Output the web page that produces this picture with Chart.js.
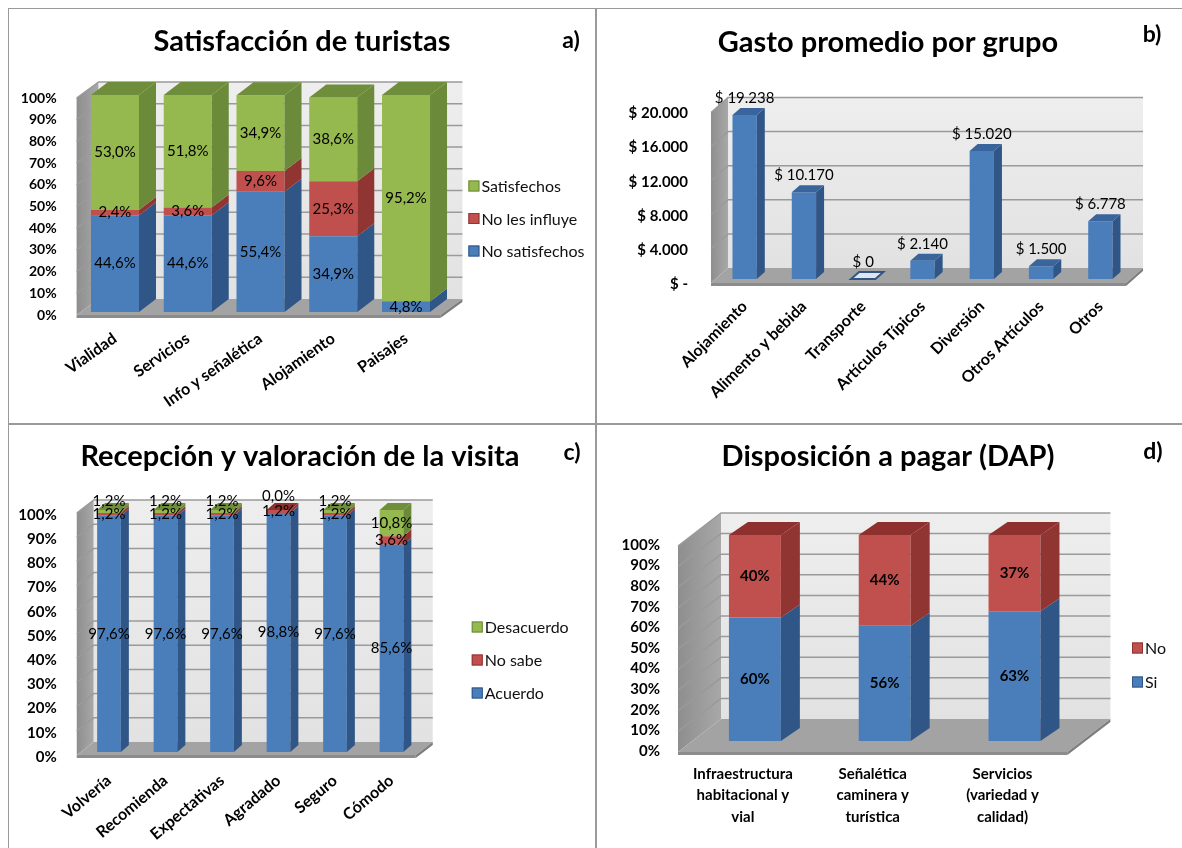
<!DOCTYPE html>
<html>
<head>
<meta charset="utf-8">
<script src="https://cdn.jsdelivr.net/npm/chart.js@4.4.1/dist/chart.umd.min.js"></script>
<style>
    body { margin:0; background:#fff; width:1182px; height:848px; position:relative; overflow:hidden; }
    .marco { position:absolute; border:1.5px solid #9a9a9a; box-sizing:border-box; }
    canvas { position:absolute; }
</style>
</head>
<body>
<div class="marco" style="left:8px;top:8px;width:589px;height:417px"></div>
<div class="marco" style="left:595px;top:8px;width:600px;height:417px"></div>
<div class="marco" style="left:8px;top:423px;width:589px;height:440px"></div>
<div class="marco" style="left:595px;top:423px;width:600px;height:440px"></div>

<canvas id="graficoA" width="596" height="424" style="left:0;top:0"></canvas>
<canvas id="graficoB" width="586" height="424" style="left:596px;top:0"></canvas>
<canvas id="graficoC" width="596" height="424" style="left:0;top:424px"></canvas>
<canvas id="graficoD" width="586" height="424" style="left:596px;top:424px"></canvas>

<script>
// a) Satisfaccion de turistas
const categoriasA = ['Vialidad', 'Servicios', 'Info y señalética', 'Alojamiento', 'Paisajes'];
const noSatisfechos = [44.6, 44.6, 55.4, 34.9, 4.8];
const noLesInfluye = [2.4, 3.6, 9.6, 25.3, null];
const satisfechos = [53.0, 51.8, 34.9, 38.6, 95.2];

// b) Gasto promedio por grupo
const categoriasB = ['Alojamiento', 'Alimento y bebida', 'Transporte', 'Artículos Típicos', 'Diversión', 'Otros Artículos', 'Otros'];
const gasto = [19238, 10170, 0, 2140, 15020, 1500, 6778];

// c) Recepcion y valoracion de la visita
const categoriasC = ['Volvería', 'Recomienda', 'Expectativas', 'Agradado', 'Seguro', 'Cómodo'];
const acuerdo = [97.6, 97.6, 97.6, 98.8, 97.6, 85.6];
const noSabe = [1.2, 1.2, 1.2, 1.2, 1.2, 3.6];
const desacuerdo = [1.2, 1.2, 1.2, 0.0, 1.2, 10.8];

// d) Disposicion a pagar
const categoriasD = [['Infraestructura', 'habitacional y', 'vial'], ['Señalética', 'caminera y', 'turística'], ['Servicios', '(variedad y', 'calidad)']];
const si = [60, 56, 63];
const no = [40, 44, 37];

const AZUL = { front: '#4a7ebb', side: '#2f5686', top: '#3a659c' };
const ROJO = { front: '#c0504d', side: '#913532', top: '#8e302d' };
const VERDE = { front: '#95b84f', side: '#6b8a3a', top: '#6f8e3b' };

const FUENTE = 'Lato, "Open Sans", sans-serif';

function poligono(ctx, pts, fill, stroke){
    ctx.beginPath();
    ctx.moveTo(pts[0][0], pts[0][1]);
    for (let k = 1; k < pts.length; k++) ctx.lineTo(pts[k][0], pts[k][1]);
    ctx.closePath();
    if (fill) { ctx.fillStyle = fill; ctx.fill(); }
    if (stroke) { ctx.strokeStyle = stroke; ctx.stroke(); }
}

function porcentaje(v){
    return v.toFixed(1).replace('.', ',') + '%';
}

function pesos(v){
    return '$ ' + String(v).replace(/\B(?=(\d{3})+(?!\d))/g, '.');
}

// paredes, piso y caras laterales al estilo 3D de Excel
const tresD = {
    id: 'tresD',
    beforeDatasetsDraw(chart, args, o){
        const ctx = chart.ctx, area = chart.chartArea, ys = chart.scales.y;
        const L = area.left + o.sx, R = area.right + o.sx;
        const T = ys.getPixelForValue(ys.max) + o.sy, B = ys.getPixelForValue(ys.min) + o.sy;
        const dx = o.wx, dy = o.wy;
        ctx.save();
        let g = ctx.createLinearGradient(L, 0, L + dx, 0);
        g.addColorStop(0, '#8e8e8e');
        g.addColorStop(1, '#a8a8a8');
        poligono(ctx, [[L, T], [L + dx, T + dy], [L + dx, B + dy], [L, B]], g);
        g = ctx.createLinearGradient(0, T + dy, 0, B + dy);
        g.addColorStop(0, '#eeeeee');
        g.addColorStop(1, '#e2e2e2');
        poligono(ctx, [[L + dx, T + dy], [R + dx, T + dy], [R + dx, B + dy], [L + dx, B + dy]], g);
        poligono(ctx, [[L, B], [R, B], [R + dx, B + dy], [L + dx, B + dy]], '#a3a3a3');
        poligono(ctx, [[L, B], [R, B], [R, B + 3], [L, B + 3]], '#8c8c8c');
        poligono(ctx, [[R, B], [R + dx, B + dy], [R + dx, B + dy + 3], [R, B + 3]], '#7d7d7d');
        ctx.lineWidth = 1.5;
        ys.ticks.forEach(function(t){
            if (t.value === ys.min) return;
            const y = ys.getPixelForValue(t.value) + o.sy;
            ctx.strokeStyle = '#9a9a9a';
            ctx.beginPath();
            ctx.moveTo(L, y);
            ctx.lineTo(L + dx, y + dy);
            ctx.lineTo(R + dx, y + dy);
            ctx.stroke();
        });
        ctx.restore();
    },
    afterDatasetsDraw(chart, args, o){
        const ctx = chart.ctx;
        const datasets = chart.data.datasets;
        const n = chart.data.labels.length;
        const bx = o.bx, by = o.by;
        ctx.save();
        for (let j = 0; j < n; j++) {
            let tope = -1;
            datasets.forEach(function(ds, i){ if (ds.data[j] > 0) tope = i; });
            datasets.forEach(function(ds, i){
                const v = ds.data[j];
                if (v == null) return;
                const el = chart.getDatasetMeta(i).data[j];
                const l = el.x - el.width / 2, r = el.x + el.width / 2;
                const t = Math.min(el.y, el.base), b = Math.max(el.y, el.base);
                if (v > 0) {
                    poligono(ctx, [[r, t], [r + bx, t + by], [r + bx, b + by], [r, b]], ds.colores.side);
                }
                if (i === tope) {
                    poligono(ctx, [[l, t], [l + bx, t + by], [r + bx, t + by], [r, t]], ds.colores.top);
                }
                if (tope < 0 && i === 0) {
                    ctx.lineWidth = 2;
                    poligono(ctx, [[l, t], [l + bx, t + by], [r + bx, t + by], [r, t]], '#dfe6f0', ds.colores.side);
                }
            });
        }
        // etiquetas de datos
        ctx.fillStyle = '#000';
        ctx.font = o.etiquetas.font;
        ctx.textAlign = 'center';
        ctx.textBaseline = 'middle';
        const ultimo = datasets.length - 1;
        for (let j = 0; j < n; j++) {
            datasets.forEach(function(ds, i){
                const v = ds.data[j];
                if (v == null) return;
                const el = chart.getDatasetMeta(i).data[j];
                const t = Math.min(el.y, el.base), b = Math.max(el.y, el.base);
                let y = (t + b) / 2;
                if (o.etiquetas.arriba) {
                    y = t - 17;
                } else if (i === ultimo && ultimo > 0 && b - t < 8) {
                    y = t - 9 - (v === 0 ? 5 : 0);
                }
                ctx.fillText(o.etiquetas.formato(v), el.x, y);
            });
        }
        ctx.restore();
    },
    afterDraw(chart, args, o){
        const ctx = chart.ctx, area = chart.chartArea;
        ctx.save();
        ctx.fillStyle = '#000';
        ctx.textAlign = 'center';
        ctx.textBaseline = 'middle';
        ctx.font = 'bold 29px ' + FUENTE;
        ctx.fillText(o.titulo.texto, o.titulo.x, o.titulo.y);
        ctx.font = 'bold 23px ' + FUENTE;
        ctx.fillText(o.marca.texto, o.marca.x, o.marca.y);
        if (o.leyenda) {
            const lg = o.leyenda;
            const items = chart.data.datasets.slice().reverse();
            ctx.font = lg.font;
            ctx.textAlign = 'left';
            items.forEach(function(ds, k){
                const x = area.right + lg.x, y = area.top + lg.y + k * lg.gap;
                ctx.lineWidth = 1;
                ctx.fillStyle = ds.colores.front;
                ctx.fillRect(x, y - 5.5, 11, 11);
                ctx.strokeStyle = ds.colores.side;
                ctx.strokeRect(x + 0.5, y - 5, 10, 10);
                ctx.fillStyle = '#111';
                ctx.fillText(ds.label, x + 13, y + 1);
            });
        }
        ctx.restore();
    }
};

function opcionesBase(padding){
    return {
        responsive: false,
        animation: false,
        events: [],
        layout: { padding: padding },
        plugins: {
            legend: { display: false },
            tooltip: { enabled: false },
            title: { display: false }
        }
    };
}

function ejeX(fuente, rot, alto, pad, offset){
    return {
        stacked: true,
        grid: { display: false, drawTicks: false },
        border: { display: false },
        ticks: {
            color: '#000',
            font: fuente,
            minRotation: rot,
            maxRotation: rot,
            autoSkip: false,
            padding: pad,
            labelOffset: offset
        },
        afterFit: function(s){ s.height = alto; }
    };
}

function ejeY(max, paso, formato, fuente, ancho, pad, offset){
    return {
        stacked: true,
        min: 0,
        max: max,
        grid: { display: false, drawTicks: false },
        border: { display: false },
        ticks: {
            stepSize: paso,
            autoSkip: false,
            color: '#000',
            font: fuente,
            padding: pad,
            labelOffset: offset,
            callback: formato
        },
        afterFit: function(s){ s.width = ancho; }
    };
}

Chart.defaults.font.family = FUENTE;

// ---------- a)
const opA = opcionesBase({ left: 0, right: 153.6, top: 95, bottom: 0 });
opA.scales = {
    x: ejeX({ family: FUENTE, size: 16, weight: 'bold' }, 35, 112, 17, 0),
    y: ejeY(100, 10, function(v){ return v + '%'; }, { family: FUENTE, size: 14, weight: 'bold' }, 78.6, 22, 3)
};
opA.plugins.tresD = {
    sx: -2, sy: 3, wx: 22, wy: -16, bx: 17, by: -13,
    etiquetas: { font: '15px ' + FUENTE, formato: porcentaje },
    leyenda: { x: 26, y: 91, gap: 32.5, font: '16px ' + FUENTE },
    titulo: { texto: 'Satisfacción de turistas', x: 302, y: 42 },
    marca: { texto: 'a)', x: 571, y: 41 }
};
new Chart(document.getElementById('graficoA'), {
    type: 'bar',
    plugins: [tresD],
    data: {
        labels: categoriasA,
        datasets: [
            { label: 'No satisfechos', data: noSatisfechos, backgroundColor: AZUL.front, colores: AZUL, barPercentage: 0.66, categoryPercentage: 1 },
            { label: 'No les influye', data: noLesInfluye, backgroundColor: ROJO.front, colores: ROJO, barPercentage: 0.66, categoryPercentage: 1 },
            { label: 'Satisfechos', data: satisfechos, backgroundColor: VERDE.front, colores: VERDE, barPercentage: 0.66, categoryPercentage: 1 }
        ]
    },
    options: opA
});

// ---------- b)
const opB = opcionesBase({ left: 0, right: 52, top: 108.5, bottom: 0 });
opB.scales = {
    x: ejeX({ family: FUENTE, size: 16, weight: 'bold' }, 45, 145, 18, 0),
    y: ejeY(20000, 4000, function(v){ return v === 0 ? '$ -' : pesos(v); }, { family: FUENTE, size: 15, weight: 'bold' }, 119, 27, 5)
};
opB.plugins.tresD = {
    sx: -4, sy: 4, wx: 17, wy: -15, bx: 8, by: -7,
    etiquetas: { font: '15px ' + FUENTE, formato: pesos, arriba: true },
    titulo: { texto: 'Gasto promedio por grupo', x: 292, y: 43 },
    marca: { texto: 'b)', x: 556, y: 35 }
};
new Chart(document.getElementById('graficoB'), {
    type: 'bar',
    plugins: [tresD],
    data: {
        labels: categoriasB,
        datasets: [
            { label: 'Gasto', data: gasto, backgroundColor: AZUL.front, colores: AZUL, barPercentage: 0.41, categoryPercentage: 1 }
        ]
    },
    options: opB
});

// ---------- c)
const opC = opcionesBase({ left: 0, right: 176.25, top: 86, bottom: 0 });
opC.scales = {
    x: ejeX({ family: FUENTE, size: 16, weight: 'bold' }, 40, 96, 19, 0),
    y: ejeY(100, 10, function(v){ return v + '%'; }, { family: FUENTE, size: 15, weight: 'bold' }, 80.75, 24, 5)
};
opC.plugins.tresD = {
    sx: -4, sy: 3, wx: 17, wy: -13, bx: 8, by: -7,
    etiquetas: { font: '15px ' + FUENTE, formato: porcentaje },
    leyenda: { x: 52, y: 117, gap: 33, font: '16px ' + FUENTE },
    titulo: { texto: 'Recepción y valoración de la visita', x: 300, y: 33 },
    marca: { texto: 'c)', x: 572, y: 29 }
};
new Chart(document.getElementById('graficoC'), {
    type: 'bar',
    plugins: [tresD],
    data: {
        labels: categoriasC,
        datasets: [
            { label: 'Acuerdo', data: acuerdo, backgroundColor: AZUL.front, colores: AZUL, barPercentage: 0.42, categoryPercentage: 1 },
            { label: 'No sabe', data: noSabe, backgroundColor: ROJO.front, colores: ROJO, barPercentage: 0.42, categoryPercentage: 1 },
            { label: 'Desacuerdo', data: desacuerdo, backgroundColor: VERDE.front, colores: VERDE, barPercentage: 0.42, categoryPercentage: 1 }
        ]
    },
    options: opC
});

// ---------- d)
const opD = opcionesBase({ left: 0, right: 102.6, top: 111, bottom: 0 });
opD.scales = {
    x: ejeX({ family: FUENTE, size: 15, weight: 'bold', lineHeight: 1.45 }, 0, 107, 22, -12),
    y: ejeY(100, 10, function(v){ return v + '%'; }, { family: FUENTE, size: 15, weight: 'bold' }, 94, 30, 10)
};
opD.plugins.tresD = {
    sx: -12, sy: 11, wx: 43, wy: -33, bx: 19, by: -13,
    etiquetas: { font: 'bold 15px ' + FUENTE, formato: function(v){ return v + '%'; } },
    leyenda: { x: 52.6, y: 113, gap: 34, font: '16px ' + FUENTE },
    titulo: { texto: 'Disposición a pagar (DAP)', x: 292, y: 33 },
    marca: { texto: 'd)', x: 557, y: 28 }
};
new Chart(document.getElementById('graficoD'), {
    type: 'bar',
    plugins: [tresD],
    data: {
        labels: categoriasD,
        datasets: [
            { label: 'Si', data: si, backgroundColor: AZUL.front, colores: AZUL, barPercentage: 0.40, categoryPercentage: 1 },
            { label: 'No', data: no, backgroundColor: ROJO.front, colores: ROJO, barPercentage: 0.40, categoryPercentage: 1 }
        ]
    },
    options: opD
});
</script>
</body>
</html>
